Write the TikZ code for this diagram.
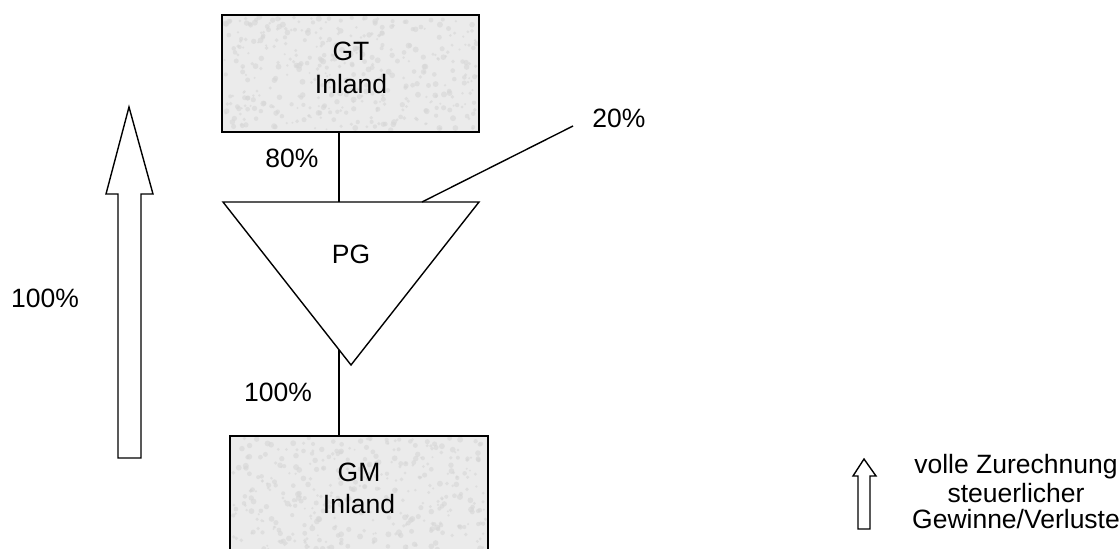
\documentclass[tikz,border=0pt]{standalone}
\usepackage{fontspec}
\setmainfont{Liberation Sans}
\begin{document}
\begin{tikzpicture}[x=1pt,y=-1pt,
  box/.style={draw=black, line width=2pt, fill=black!8},
  lbl/.style={font=\fontsize{26.5}{31}\selectfont, anchor=base, inner sep=0pt},
  thin/.style={draw=black, line width=1.4pt, line join=miter},
  speck/.style={fill=black!16}]
\useasboundingbox (0,0) rectangle (1120,549);
\clip (0,0) rectangle (1120,549);
% boxes
\path[box] (222,15) rectangle (479,132);
\path[box] (230,436) rectangle (488,600);
\pgfmathsetseed{42}
\begin{scope}
\clip (223,16) rectangle (478,131);
\foreach \i in {1,...,420}{
  \pgfmathsetmacro\px{224+253*rnd}\pgfmathsetmacro\py{17+113*rnd}\pgfmathsetmacro\pr{1+2*rnd}
  \fill[speck, opacity=0.6] (\px,\py) circle (\pr);
}
\end{scope}
\begin{scope}
\clip (231,437) rectangle (487,549);
\foreach \i in {1,...,400}{
  \pgfmathsetmacro\px{232+254*rnd}\pgfmathsetmacro\py{438+112*rnd}\pgfmathsetmacro\pr{1+2*rnd}
  \fill[speck, opacity=0.6] (\px,\py) circle (\pr);
}
\end{scope}
\draw[box, fill=none] (222,15) rectangle (479,132);
\draw[box, fill=none] (230,436) rectangle (488,600);
\coordinate (gt) at (339,132);
\coordinate (gm) at (339,436);
% triangle
\coordinate (tl) at (223,202);
\coordinate (tr) at (479,202);
\coordinate (ta) at (351,365);
\draw[thin] (tl) -- (tr) -- (ta) -- cycle;
\coordinate (pgtop) at (339,202);
\coordinate (pgbot) at (339,349.7);
\coordinate (pgside) at (422,202);
\coordinate (twenty) at (573,126);
\draw[thin] (gt) -- (pgtop);
\draw[thin] (pgbot) -- (gm);
\draw[thin] (pgside) -- (twenty);
% texts
\node[lbl] (gtt1) at (351,60) {GT};
\node[lbl] (gtt2) at (351,93) {Inland};
\node[lbl] (gmt1) at (359,481) {GM};
\node[lbl] (gmt2) at (359,513) {Inland};
\node[lbl] (pg) at (351,263) {PG};
\node[lbl] (p80) at (292,167) {80\%};
\node[lbl] (p20) at (619,127) {20\%};
\node[lbl] (p100a) at (45,307) {100\%};
\node[lbl] (p100b) at (278,401) {100\%};
% big arrow
\draw[thin] (129,107) -- (153,194) -- (141,194) -- (141,458) -- (118,458) -- (118,194) -- (106,194) -- cycle;
% small arrow
\draw[thin] (864,459) -- (876,476) -- (870,476) -- (870,529) -- (858,529) -- (858,476) -- (853,476) -- cycle;
\node[lbl] (l1) at (1016,473) {volle Zurechnung};
\node[lbl] (l2) at (1016,502) {steuerlicher};
\node[lbl] (l3) at (1016,528) {Gewinne/Verluste};
\end{tikzpicture}
\end{document}
